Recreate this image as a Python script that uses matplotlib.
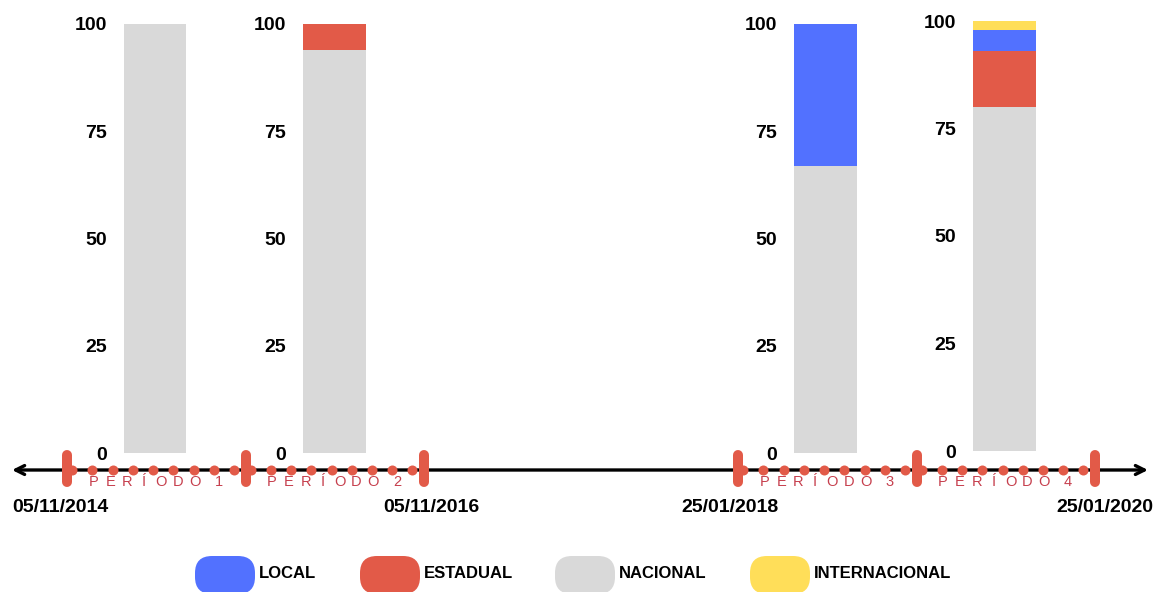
import numpy as np
import matplotlib
matplotlib.use("Agg")
import matplotlib.pyplot as plt
from matplotlib.patches import FancyBboxPatch

# Data (percent share per period)
periods = ["1", "2", "3", "4"]
nacional = [100, 94, 67, 80]
estadual = [0, 6, 0, 13]
local = [0, 0, 33, 5]
internacional = [0, 0, 0, 2]
y_ticks = [0, 25, 50, 75, 100]
dates = ["05/11/2014", "05/11/2016", "25/01/2018", "25/01/2020"]
legend_labels = ["LOCAL", "ESTADUAL", "NACIONAL", "INTERNACIONAL"]

# Colours
C_LOCAL = "#5271ff"
C_EST = "#e25a48"
C_NAC = "#d9d9d9"
C_INT = "#ffde59"
C_TXT_RED = "#c63f4d"

W, H = 1164, 592
FONT = "Liberation Sans"

fig = plt.figure(figsize=(W / 100, H / 100), dpi=100)

# background axes in pixel units for the timeline and legend
bg = fig.add_axes([0, 0, 1, 1])
bg.set_xlim(0, W)
bg.set_ylim(H, 0)
bg.axis("off")

# ---- bar panels: (bar left px, bar width px, y of 0, y of 100)
panels = [(123.5, 63, 453, 24), (302.5, 63, 453, 24),
          (794, 63, 453, 24), (973, 63, 451, 21)]

for i, (left, bw, y0, y100) in enumerate(panels):
    ax = fig.add_axes([left / W, (H - y0) / H, bw / W, (y0 - y100) / H])
    ax.patch.set_alpha(0)
    bottom = 0
    for vals, col in [(nacional, C_NAC), (estadual, C_EST),
                      (local, C_LOCAL), (internacional, C_INT)]:
        if vals[i] > 0:
            ax.bar(0, vals[i], width=1, bottom=bottom, color=col, linewidth=0)
        bottom += vals[i]
    ax.set_xlim(-0.5, 0.5)
    ax.set_ylim(0, 100)
    ax.set_xticks([])
    ax.set_yticks(y_ticks)
    ax.set_yticklabels([str(t) for t in y_ticks], fontfamily=FONT,
                       fontweight="bold", fontsize=14)
    ax.tick_params(axis="y", length=0, pad=12)
    for s in ax.spines.values():
        s.set_visible(False)

# ---- timeline
line_y = 470
bg.annotate("", xy=(12, line_y), xytext=(1148, line_y),
            arrowprops=dict(arrowstyle="<->", lw=2.4, color="black",
                            mutation_scale=16, shrinkA=0, shrinkB=0),
            zorder=2)

tick_groups = [[67, 246, 424], [738, 917, 1095]]
for grp in tick_groups:
    for tx in grp:
        bg.plot([tx, tx], [455, 482], color=C_EST, lw=7.2,
                solid_capstyle="round", zorder=4)
    for a, b in zip(grp[:-1], grp[1:]):
        xs = np.linspace(a + 5, b - 12, 9)
        bg.scatter(xs, np.full(len(xs), line_y), s=52, color=C_EST,
                   linewidths=0, zorder=3)

# period labels with wide letter spacing
mids = [(67 + 246) / 2, (246 + 424) / 2, (738 + 917) / 2, (917 + 1095) / 2]
word = "PERÍODO"
for mid, p in zip(mids, periods):
    for k, ch in enumerate(word):
        bg.text(mid - 63 + 16.9 * k, 482.5, ch, ha="center", va="center",
                fontsize=10.5, color=C_TXT_RED, fontfamily=FONT)
    bg.text(mid + 62, 482.5, p, ha="center", va="center",
            fontsize=10.5, color=C_TXT_RED, fontfamily=FONT)

# dates
date_pos = [(12, "left"), (479, "right"), (681, "left"), (1153, "right")]
for d, (x, ha) in zip(dates, date_pos):
    bg.text(x, 508, d, ha=ha, va="center", fontsize=14,
            fontweight="bold", fontfamily=FONT)

# ---- legend
leg_colors = [C_LOCAL, C_EST, C_NAC, C_INT]
pill_left = [195, 360, 555, 750]
for lab, col, px in zip(legend_labels, leg_colors, pill_left):
    bg.add_patch(FancyBboxPatch((px, 556), 60, 38,
                                boxstyle="round,pad=0,rounding_size=17",
                                facecolor=col, edgecolor="none"))
    bg.text(px + 64, 573, lab, ha="left", va="center", fontsize=12,
            fontweight="bold", fontfamily=FONT)

fig.savefig("out.png", dpi=100)
plt.close(fig)
